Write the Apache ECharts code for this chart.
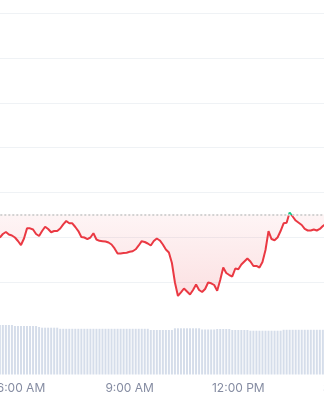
<!DOCTYPE html>
<html>
<head>
<meta charset="utf-8">
<script src="https://cdn.jsdelivr.net/npm/echarts@6/dist/echarts.min.js"></script>
<style>
html,body{margin:0;padding:0;background:#fff;}
#chart{width:324px;height:400px;}
</style>
</head>
<body>
<div id="chart"></div>
<script>
// Time axis (hours of day), 5-minute candles starting 5:25 AM
const START_HOUR = 5 + 25 / 60;
const STEP_HOUR = 5 / 60;
const tickHours = [3, 6, 9, 12, 15];
const tickLabels = ['3:00 AM', '6:00 AM', '9:00 AM', '12:00 PM', '3:00 PM'];

const openPrice = 2425.6;

const prices = [
  2400.0, 2403.9, 2406.1, 2403.3, 2402.2, 2400.0, 2396.1, 2391.6, 2398.9, 2410.2,
  2410.2, 2408.9, 2403.9, 2401.7, 2407.2, 2412.0, 2409.5, 2405.8, 2407.2, 2407.2,
  2410.0, 2414.7, 2418.4, 2415.8, 2415.8, 2411.7, 2407.2, 2400.6, 2400.0, 2398.3,
  2400.0, 2404.7, 2397.8, 2396.3, 2395.9, 2395.5, 2394.4, 2392.2, 2387.8, 2382.2,
  2382.2, 2382.7, 2383.1, 2384.1, 2384.7, 2386.9, 2391.1, 2395.9, 2395.0, 2393.3,
  2391.1, 2396.1, 2398.9, 2396.7, 2392.2, 2386.6, 2383.3, 2371.6, 2349.9, 2334.9,
  2338.8, 2343.2, 2339.9, 2336.5, 2341.5, 2347.7, 2341.5, 2339.3, 2342.7, 2349.9,
  2349.0, 2347.1, 2340.8, 2352.7, 2366.6, 2360.5, 2358.2, 2356.6, 2365.5, 2364.6,
  2369.9, 2373.3, 2376.6, 2373.3, 2368.3, 2368.3, 2366.6, 2372.7, 2386.1, 2407.2,
  2398.3, 2396.9, 2400.0, 2407.2, 2415.8, 2416.5, 2427.8, 2423.4, 2418.9, 2416.4,
  2413.9, 2409.5, 2407.8, 2407.8, 2408.9, 2407.8, 2409.5, 2412.8, 2415.0
];

const volumes = [
  99, 99, 99, 99, 99, 97, 97, 97, 97, 97,
  97, 97, 97, 95, 93.6, 93.6, 93.6, 93.6, 93.6, 93.6,
  91.4, 91.4, 91.4, 91.4, 91.4, 91.4, 91.4, 91.4, 91.4, 91.4,
  91.4, 91.4, 91.4, 91.4, 91.4, 91.4, 91.4, 91.4, 91.4, 91.4,
  91.4, 91.4, 91.4, 91.4, 91.4, 91.4, 91.4, 91.4, 91.4, 91.4,
  89, 89, 89, 89, 89, 89, 89, 89, 92.4, 92.4,
  92.4, 92.4, 92.4, 92.4, 92.4, 92.4, 92.4, 90, 90, 90,
  90, 90, 91, 91, 91, 91, 91, 89, 89, 89,
  89, 89, 89, 87.6, 87.6, 87.6, 87.6, 87.6, 87.6, 87.6,
  87.6, 87.6, 87.6, 87.6, 89.4, 89.4, 89.4, 89.4, 89.4, 89.4,
  89.4, 89.4, 89.4, 89.4, 89.4, 89.4, 89.4, 89.4, 89.4
];

const times = prices.map((_, i) => START_HOUR + i * STEP_HOUR);
const priceData = prices.map((v, i) => [times[i], v]);
const volumeData = volumes.map((v, i) => [times[i], v]);

const chart = echarts.init(document.getElementById('chart'), null, {renderer: 'canvas'});
const font = 'Inter, "Noto Sans", sans-serif';

chart.setOption({
  animation: false,
  backgroundColor: '#ffffff',
  grid: [
    {left: -87.7, right: -23, top: 13, bottom: 72.7, outerBoundsMode: 'none', containLabel: false},
    {left: -87.7, right: -23, top: 324.5, bottom: 25.5, outerBoundsMode: 'none', containLabel: false}
  ],
  xAxis: [
    {
      type: 'value', gridIndex: 0, min: 3, max: 15, interval: 3,
      axisLine: {show: false}, axisTick: {show: false}, axisLabel: {show: false},
      splitLine: {show: false}
    },
    {
      type: 'value', gridIndex: 1, min: 3, max: 15, interval: 3,
      axisLine: {show: false}, axisTick: {show: false},
      splitLine: {show: false},
      axisLabel: {
        color: '#858ca2', fontSize: 12, fontFamily: font, margin: 8,
        formatter: v => tickLabels[tickHours.indexOf(v)] || ''
      }
    }
  ],
  yAxis: [
    {
      type: 'value', gridIndex: 0, min: 2300, max: 2650, interval: 50,
      axisLine: {show: false}, axisTick: {show: false}, axisLabel: {show: false},
      splitLine: {show: true, showMinLine: false, lineStyle: {color: '#eff2f5', width: 1}}
    },
    {
      type: 'value', gridIndex: 1, min: 0, max: 100,
      axisLine: {show: false}, axisTick: {show: false}, axisLabel: {show: false},
      splitLine: {show: false}
    }
  ],
  visualMap: {
    type: 'piecewise', show: false, seriesIndex: 0, dimension: 1,
    pieces: [
      {gte: 2000, lte: openPrice, color: '#ea3943'},
      {gt: openPrice, lte: 3000, color: '#16c784'}
    ]
  },
  series: [
    {
      type: 'line', xAxisIndex: 0, yAxisIndex: 0,
      data: priceData, showSymbol: false, symbol: 'none',
      lineStyle: {width: 2},
      areaStyle: {
        origin: openPrice,
        color: new echarts.graphic.LinearGradient(0, 0, 0, 1, [
          {offset: 0, color: 'rgba(234,57,67,0.07)'},
          {offset: 1, color: 'rgba(234,57,67,0.22)'}
        ])
      },
      markLine: {
        silent: true, symbol: 'none', label: {show: false},
        lineStyle: {color: '#d3d3d3', type: [2, 2], width: 2},
        data: [{yAxis: openPrice}]
      },
      z: 3
    },
    {
      type: 'bar', xAxisIndex: 1, yAxisIndex: 1,
      data: volumeData, barWidth: 2,
      itemStyle: {color: '#d5ddea'},
      silent: true
    }
  ]
});
</script>
</body>
</html>
